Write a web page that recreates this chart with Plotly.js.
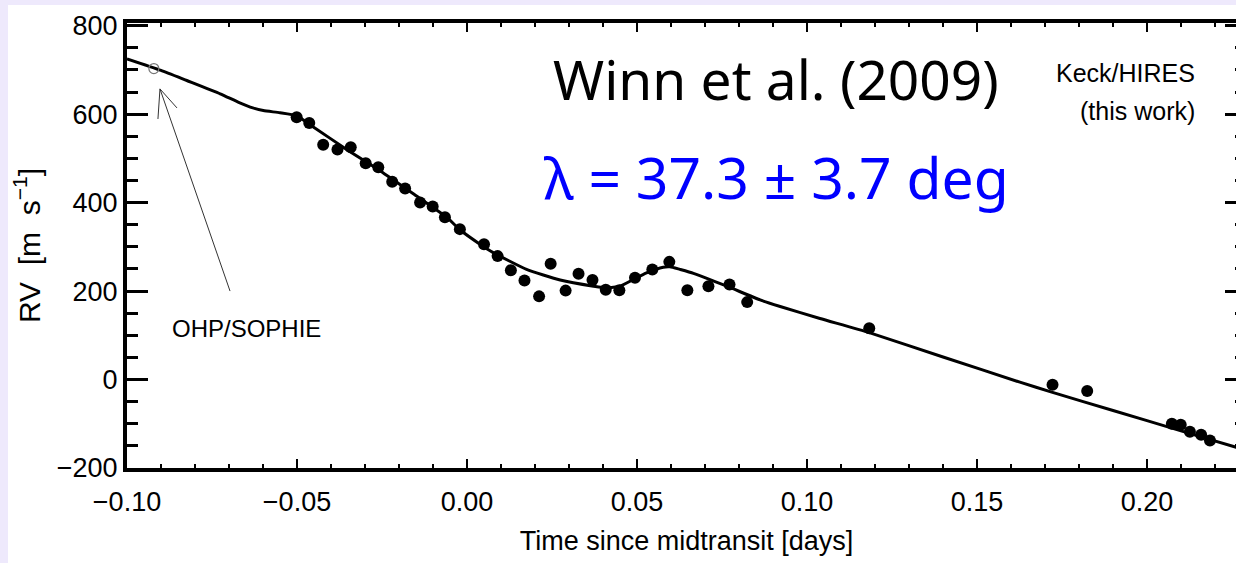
<!DOCTYPE html>
<html>
<head>
<meta charset="utf-8">
<script src="https://cdn.plot.ly/plotly-3.0.1.min.js"></script>
<style>
  html, body { margin: 0; padding: 0; background: #EEE9FC; overflow: hidden; width: 1236px; height: 563px; }
  #chart { position: absolute; left: 8px; top: 5px; width: 1242px; height: 558px; background: #ffffff; }
</style>
</head>
<body>
<div id="chart"></div>
<script>
// Keck/HIRES radial velocities (time since midtransit [days], RV [m/s])
const hiresTime = [-0.0501, -0.0464, -0.0423, -0.0381, -0.0342, -0.0298, -0.0261, -0.0220, -0.0182, -0.0138,
  -0.0101, -0.0065, -0.0021, 0.0050, 0.0090, 0.0129, 0.0169, 0.0212, 0.0246, 0.0290,
  0.0328, 0.0369, 0.0408, 0.0448, 0.0494, 0.0545, 0.0595, 0.0648, 0.0710, 0.0772,
  0.0824, 0.1183, 0.1722, 0.1824, 0.2073, 0.2099, 0.2126, 0.2159, 0.2185];
const hiresRV = [593, 580, 531, 520, 525, 489, 480, 447, 432, 400,
  391, 367, 340, 306, 279, 247, 224, 188, 262, 201,
  239, 225, 203, 202, 230, 249, 266, 202, 211, 215,
  175, 116, -12, -26, -100, -102, -118, -125, -138];

// OHP/SOPHIE point
const sophieTime = [-0.0921];
const sophieRV = [703];

// Best-fit model curve (lambda = 37.3 deg)
const modelTime = [-0.100, -0.090, -0.0824, -0.0726, -0.0670, -0.0630, -0.0599, -0.055, -0.0501, -0.0452, -0.0354,
  -0.0256, -0.0158, -0.006, -0.002, 0.0038, 0.0077, 0.0175, 0.0274, 0.0372, 0.0411,
  0.045, 0.0489, 0.0528, 0.0577, 0.0597, 0.0626, 0.0666, 0.0764, 0.0862, 0.0921,
  0.1038, 0.1183, 0.140, 0.1626, 0.1722, 0.190, 0.210, 0.2262, 0.2291];
const modelRV = [725, 699, 676, 646, 626, 614, 608, 603, 596, 571, 520,
  472, 420, 367, 338, 306, 287, 249, 225, 211, 207,
  211, 226, 241, 254, 255, 249, 240, 211, 180, 165,
  138, 106, 51, -6, -29, -70, -116, -153, -159];

// Tick values
const xTickVals = [-0.10, -0.05, 0.00, 0.05, 0.10, 0.15, 0.20];
const yTickVals = [-200, 0, 200, 400, 600, 800];

// Arrow pointing to the SOPHIE point: tail, tip, and the two arms of the open head (data units)
const arrowTail = [-0.0697, 200];
const arrowTip = [-0.0903, 657];
const arrowArm1 = [-0.0909, 589];
const arrowArm2 = [-0.0853, 614];

const tickFont = { family: 'Liberation Sans, Arial, sans-serif', size: 27, color: '#000' };
const titleFont = { family: 'Liberation Sans, Arial, sans-serif', size: 27, color: '#000' };

const traces = [
  {
    x: modelTime, y: modelRV, type: 'scatter', mode: 'lines',
    line: { color: '#000', width: 3, shape: 'spline', smoothing: 0.5 }, hoverinfo: 'skip', showlegend: false
  },
  {
    x: hiresTime, y: hiresRV, type: 'scatter', mode: 'markers',
    marker: { symbol: 'circle', size: 12, color: '#000' }, showlegend: false, name: 'Keck/HIRES'
  },
  {
    x: sophieTime, y: sophieRV, type: 'scatter', mode: 'markers',
    marker: { symbol: 'circle-open', size: 10, color: '#777', line: { width: 1.2, color: '#777' } },
    showlegend: false, name: 'OHP/SOPHIE'
  }
];

const layout = {
  width: 1242, height: 558,
  margin: { l: 119, r: 4, t: 18, b: 95 },
  paper_bgcolor: '#ffffff', plot_bgcolor: '#ffffff',
  showlegend: false,
  xaxis: {
    range: [-0.1, 0.2291],
    tickvals: xTickVals, tickformat: '.2f',
    ticks: 'inside', ticklen: 9, tickwidth: 2, tickcolor: '#000',
    minor: { dtick: 0.01, tick0: 0, ticks: 'inside', ticklen: 4, tickwidth: 2, tickcolor: '#000', showgrid: false },
    showline: true, linewidth: 4, linecolor: '#000', mirror: 'ticks',
    showgrid: false, zeroline: false,
    tickfont: tickFont, ticklabelstandoff: 7,
    title: { text: 'Time since midtransit [days]', font: titleFont, standoff: 16 }
  },
  yaxis: {
    range: [-200, 806],
    tickvals: yTickVals,
    ticks: 'inside', ticklen: 21, tickwidth: 3, tickcolor: '#000',
    minor: { dtick: 50, tick0: 0, ticks: 'inside', ticklen: 11, tickwidth: 3, tickcolor: '#000', showgrid: false },
    showline: true, linewidth: 4, linecolor: '#000', mirror: 'ticks',
    showgrid: false, zeroline: false,
    tickfont: tickFont, ticklabelstandoff: 0,
    title: { text: 'RV\u00a0\u00a0[m\u00a0\u00a0s<sup>\u22121</sup>]', font: { family: 'Liberation Sans, Arial, sans-serif', size: 30, color: '#000' }, standoff: 12 }
  },
  shapes: [
    {
      type: 'path', xref: 'x', yref: 'y',
      path: 'M ' + arrowTail[0] + ',' + arrowTail[1] + ' L ' + arrowTip[0] + ',' + arrowTip[1],
      line: { color: '#333', width: 1 }
    },
    {
      type: 'path', xref: 'x', yref: 'y',
      path: 'M ' + arrowArm1[0] + ',' + arrowArm1[1] + ' L ' + arrowTip[0] + ',' + arrowTip[1] +
            ' L ' + arrowArm2[0] + ',' + arrowArm2[1],
      line: { color: '#333', width: 1 }
    }
  ],
  annotations: [
    {
      text: 'Winn et al. (2009)', xref: 'paper', yref: 'paper', x: 0.58, y: 0.875,
      xanchor: 'center', yanchor: 'middle', showarrow: false,
      font: { family: 'Noto Sans, sans-serif', size: 55, color: '#000' }
    },
    {
      text: '\u03bb = 37.3 \u00b1 3.7 deg', xref: 'paper', yref: 'paper', x: 0.58, y: 0.655,
      xanchor: 'center', yanchor: 'middle', showarrow: false,
      font: { family: 'Noto Sans, sans-serif', size: 57, color: '#0000ff' }
    },
    {
      text: 'Keck/HIRES', xref: 'paper', yref: 'paper', x: 0.9562, y: 0.8886,
      xanchor: 'right', yanchor: 'middle', showarrow: false,
      font: { family: 'Liberation Sans, Arial, sans-serif', size: 25, color: '#000' }
    },
    {
      text: '(this work)', xref: 'paper', yref: 'paper', x: 0.9562, y: 0.8023,
      xanchor: 'right', yanchor: 'middle', showarrow: false,
      font: { family: 'Liberation Sans, Arial, sans-serif', size: 25, color: '#000' }
    },
    {
      text: 'OHP/SOPHIE', xref: 'paper', yref: 'paper', x: 0.0384, y: 0.3136,
      xanchor: 'left', yanchor: 'middle', showarrow: false,
      font: { family: 'Liberation Sans, Arial, sans-serif', size: 24, color: '#000' }
    }
  ]
};

Plotly.newPlot('chart', traces, layout, { displayModeBar: false, staticPlot: true });
</script>
</body>
</html>
